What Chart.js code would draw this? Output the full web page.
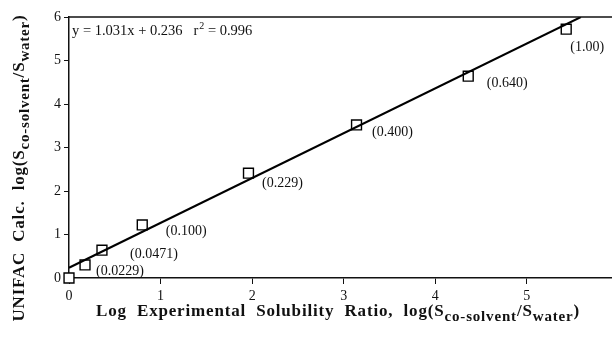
<!DOCTYPE html>
<html>
<head>
<meta charset="utf-8">
<script src="https://cdn.jsdelivr.net/npm/chart.js@4.4.1/dist/chart.umd.min.js"></script>
<style>
  body { margin: 0; background: #fff; }
  #wrap { width: 612px; height: 339px; }
</style>
</head>
<body>
<div id="wrap"><canvas id="chart" width="612" height="339"></canvas></div>
<script>
// measured points: log experimental ratio vs UNIFAC calc
var expX = [0, 0.175, 0.36, 0.80, 1.96, 3.14, 4.36, 5.43];
var calcY = [0, 0.30, 0.64, 1.22, 2.41, 3.52, 4.64, 5.72];
// co-solvent fractions printed next to points (first point has none)
var fractionLabels = ["", "(0.0229)", "(0.0471)", "(0.100)", "(0.229)", "(0.400)", "(0.640)", "(1.00)"];
// pixel offset of each label from its point
var labelDx = [0, 35, 52, 44, 34, 36, 39, 21];
var labelDy = [0, 6, 4, 6, 10, 7, 7, 18];
// regression line end points
var fitX = [0, 5.59];
var fitY = [0.236, 6.0];
var xTicks = [0, 1, 2, 3, 4, 5];
var yTicks = [0, 1, 2, 3, 4, 5, 6];
var equationText = "y = 1.031x + 0.236   r";

var serif = "'Liberation Serif', 'Times New Roman', serif";

// draw a run of text pieces (some as subscripts), stretched to a given length
function drawRich(ctx, parts, x, y, size, length) {
  var natural = 0, chars = 0;
  parts.forEach(function (p) {
    ctx.font = "bold " + (p.sub ? size - 2 : size) + "px " + serif;
    ctx.letterSpacing = "0px";
    natural += ctx.measureText(p.t).width;
    chars += p.t.length;
  });
  var spacing = (length - natural) / chars;
  var cx = x - length / 2;
  parts.forEach(function (p) {
    ctx.font = "bold " + (p.sub ? size - 2 : size) + "px " + serif;
    ctx.letterSpacing = spacing + "px";
    ctx.fillText(p.t, cx, y + (p.sub ? 5 : 0));
    cx += ctx.measureText(p.t).width;
  });
  ctx.letterSpacing = "0px";
}

var titleParts = [
  { t: "log(S" }, { t: "co-solvent", sub: true }, { t: "/S" }, { t: "water", sub: true }, { t: ")" }
];

var extras = {
  id: "extras",
  afterDatasetsDraw: function (chart) {
    var ctx = chart.ctx;
    var xs = chart.scales.x, ys = chart.scales.y;
    var a = chart.chartArea;
    ctx.save();
    // top frame line
    ctx.strokeStyle = "#111";
    ctx.lineWidth = 1.5;
    ctx.beginPath();
    ctx.moveTo(a.left, a.top);
    ctx.lineTo(a.right, a.top);
    ctx.stroke();
    // point labels
    ctx.fillStyle = "#111";
    ctx.font = "14px " + serif;
    ctx.textAlign = "center";
    ctx.textBaseline = "middle";
    for (var i = 0; i < expX.length; i++) {
      if (!fractionLabels[i]) continue;
      ctx.fillText(fractionLabels[i], xs.getPixelForValue(expX[i]) + labelDx[i], ys.getPixelForValue(calcY[i]) + labelDy[i]);
    }
    // equation
    ctx.textAlign = "left";
    ctx.font = "14.5px " + serif;
    var ex = a.left + 3, ey = a.top + 14;
    ctx.fillText(equationText, ex, ey);
    var w = ctx.measureText(equationText).width;
    ctx.font = "10px " + serif;
    ctx.fillText("2", ex + w + 1, ey - 5);
    ctx.font = "14.5px " + serif;
    ctx.fillText(" = 0.996", ex + w + 6, ey);
    // x title
    ctx.textBaseline = "alphabetic";
    drawRich(ctx, [{ t: "Log  Experimental  Solubility  Ratio,  " }].concat(titleParts), 338, 316, 17, 484);
    // y title
    ctx.translate(24, 168);
    ctx.rotate(-Math.PI / 2);
    drawRich(ctx, [{ t: "UNIFAC  Calc.  " }].concat(titleParts), 0, 0, 17, 307);
    ctx.restore();
  }
};

new Chart(document.getElementById("chart"), {
  type: "scatter",
  plugins: [extras],
  data: {
    datasets: [
      {
        type: "line",
        data: fitX.map(function (v, i) { return { x: v, y: fitY[i] }; }),
        borderColor: "#000",
        borderWidth: 2,
        pointRadius: 0,
        fill: false
      },
      {
        data: expX.map(function (v, i) { return { x: v, y: calcY[i] }; }),
        pointStyle: "rect",
        pointRadius: 7,
        backgroundColor: "#fff",
        borderColor: "#000",
        borderWidth: 1.4,
        clip: false
      }
    ]
  },
  options: {
    responsive: false,
    animation: false,
    layout: { autoPadding: false, padding: { left: 0, top: 17, right: 0, bottom: 0 } },
    plugins: { legend: { display: false }, tooltip: { enabled: false } },
    scales: {
      x: {
        type: "linear",
        min: 0,
        max: 5.93,
        afterBuildTicks: function (s) { s.ticks = xTicks.map(function (v) { return { value: v }; }); },
        afterFit: function (s) { s.height = 61; },
        border: { color: "#111", width: 1.5 },
        grid: { drawOnChartArea: false, color: "#111", tickLength: 6 },
        ticks: { color: "#111", font: { family: serif, size: 14 }, padding: 4, maxRotation: 0 }
      },
      y: {
        min: 0,
        max: 6,
        afterBuildTicks: function (s) { s.ticks = yTicks.map(function (v) { return { value: v }; }); },
        afterFit: function (s) { s.width = 69; },
        border: { color: "#111", width: 1.5 },
        grid: { drawOnChartArea: false, color: "#111", tickLength: 5 },
        ticks: { color: "#111", font: { family: serif, size: 14 }, padding: 3 }
      }
    }
  }
});
</script>
</body>
</html>
